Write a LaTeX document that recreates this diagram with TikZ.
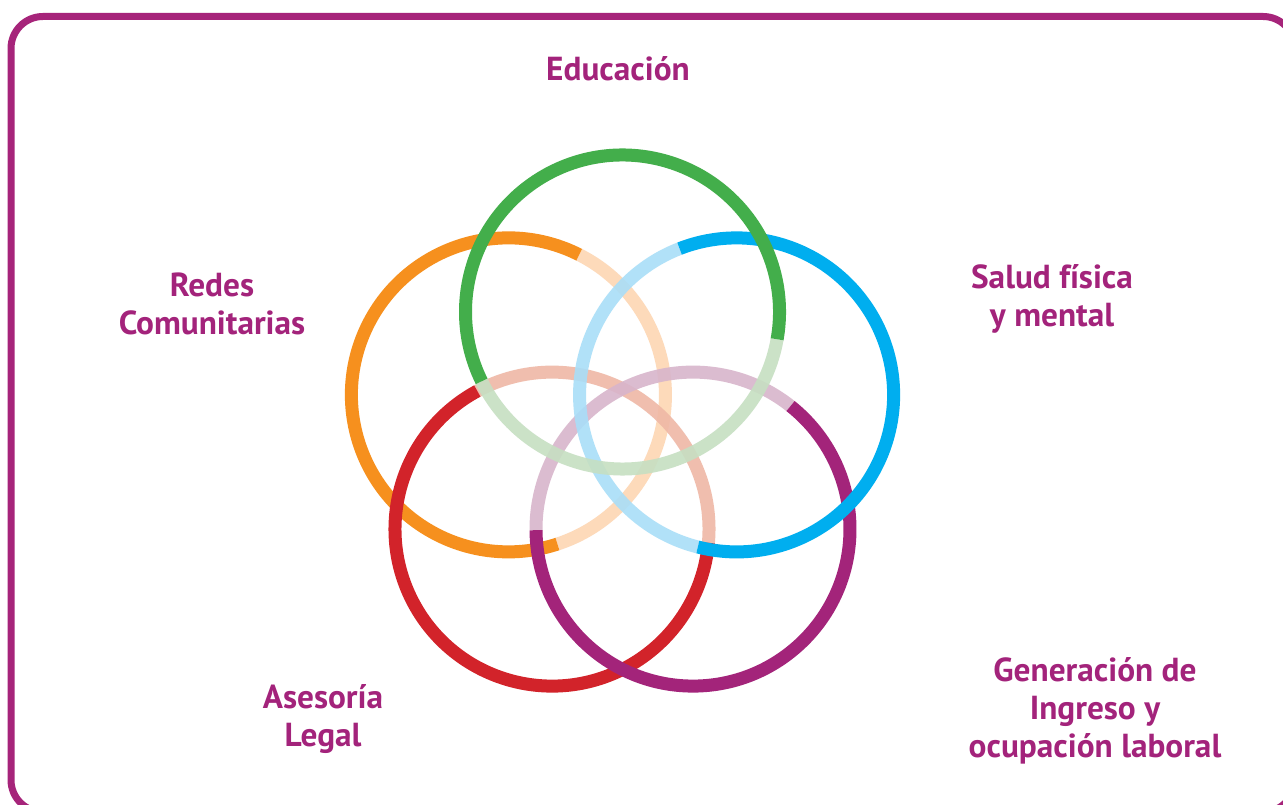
\documentclass[tikz,border=0pt]{standalone}
\usepackage{fontspec}
\setmainfont{PT Sans}
\definecolor{frame}{HTML}{A6247A}
\definecolor{txt}{HTML}{A3237B}
\definecolor{cgreen}{HTML}{43AE4B}
\definecolor{cgreenL}{HTML}{C6DFC2}
\definecolor{corange}{HTML}{F6901E}
\definecolor{corangeL}{HTML}{FDD6B3}
\definecolor{cblue}{HTML}{00AEEF}
\definecolor{cblueL}{HTML}{A9DEF8}
\definecolor{cred}{HTML}{D2232A}
\definecolor{credL}{HTML}{EFB8A6}
\definecolor{cpurple}{HTML}{A3247A}
\definecolor{cpurpleL}{HTML}{D8B5CB}
\tikzset{
  ring/.style={line width=13pt},
  lbl/.style={text=txt, font=\fontsize{33.3}{38}\selectfont\bfseries, align=center, inner sep=0pt},
}
\newcommand{\ringarc}[5]{% center, start, end, color, opacity
  \draw[ring, #4, opacity=#5] (#1) ++(#2:157) arc[start angle=#2, end angle=#3, radius=157];
}
\begin{document}
\begin{tikzpicture}[x=1pt,y=1pt]
\useasboundingbox (0,0) rectangle (1283,805);
\clip (0,0) rectangle (1283,805);
\fill[white] (0,0) rectangle (1283,805);
\draw[frame, line width=7pt, rounded corners=32pt] (11,788.5) rectangle (1295,-7);
\coordinate (cG) at (622.5,493);
\coordinate (cB) at (736.6,410.1);
\coordinate (cP) at (693.0,275.9);
\coordinate (cR) at (552.0,275.9);
\coordinate (cO) at (508.4,410.1);
% orange
\ringarc{cO}{-71.8}{63.2}{corangeL}{0.9}
\ringarc{cO}{63.2}{288.2}{corange}{1}
% red
\ringarc{cR}{-5}{118.4}{credL}{0.9}
\ringarc{cR}{118.4}{355}{cred}{1}
% purple
\ringarc{cP}{51.6}{180.4}{cpurpleL}{0.9}
\ringarc{cP}{180.4}{411.6}{cpurple}{1}
% blue
\ringarc{cB}{111.3}{255.7}{cblueL}{0.9}
\ringarc{cB}{-104.3}{111.3}{cblue}{1}
% green
\ringarc{cG}{-153.8}{-10}{cgreenL}{0.9}
\ringarc{cG}{-10}{206.2}{cgreen}{1}
% labels
\node[lbl] (edu) at (618,736) {Educación};
\node[lbl] (redes) at (212,501) {Redes\\Comunitarias};
\node[lbl] (salud) at (1052,506) {Salud física\\y mental};
\node[lbl] (ases) at (323,86) {Asesoría\\Legal};
\node[lbl] (gen) at (1095,94.5) {Generación de\\Ingreso y\\ocupación laboral};
\end{tikzpicture}
\end{document}
